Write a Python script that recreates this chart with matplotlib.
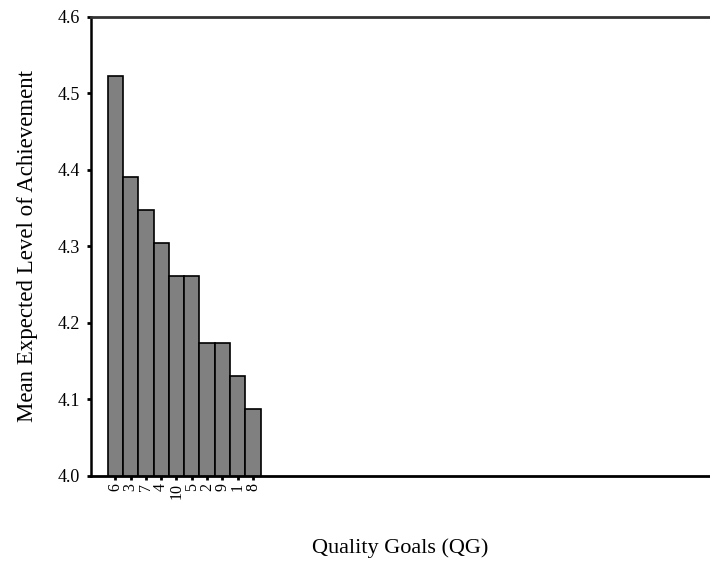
import matplotlib
matplotlib.use('Agg')
import matplotlib.pyplot as plt

# Mean expected level of achievement per quality goal (sorted)
goals = ['6', '3', '7', '4', '10', '5', '2', '9', '1', '8']
means = [4.522, 4.391, 4.348, 4.304, 4.261, 4.261, 4.174, 4.174, 4.130, 4.087]

plt.rcParams['font.family'] = ['Liberation Serif', 'DejaVu Serif']

fig = plt.figure(figsize=(7.1, 5.61), dpi=100)
ax = fig.add_axes([91 / 710, 85 / 561, 1 - 91 / 710, (476 - 16.7) / 561])

x = range(len(goals))
ax.bar(x, means, width=1.0, color='#808080', edgecolor='black', linewidth=1.2)

ax.set_ylim(4.0, 4.6)
ax.set_xlim(-1.59, 38.9)
ax.set_yticks([4.0, 4.1, 4.2, 4.3, 4.4, 4.5, 4.6])
ax.set_yticklabels(['4.0', '4.1', '4.2', '4.3', '4.4', '4.5', '4.6'])
ax.set_xticks(list(x))
ax.set_xticklabels(goals, rotation=90)

ax.tick_params(axis='both', direction='out', length=3, width=2)
ax.tick_params(axis='y', pad=5, labelsize=13)
ax.tick_params(axis='x', pad=2, labelsize=11.5)

ax.spines['right'].set_visible(False)
ax.spines['left'].set_linewidth(1.8)
ax.spines['bottom'].set_linewidth(2.0)
ax.spines['top'].set_linewidth(2.0)
ax.spines['top'].set_color('#333333')

ax.set_ylabel('Mean Expected Level of Achievement', fontsize=16.5, labelpad=14)
ax.set_xlabel('Quality Goals (QG)', fontsize=16, labelpad=28)

fig.savefig('out.png', dpi=100)
